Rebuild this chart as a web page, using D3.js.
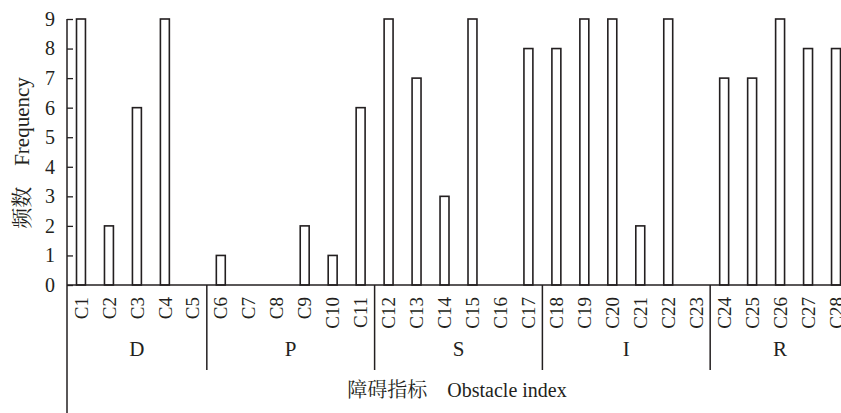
<!DOCTYPE html>
<html><head><meta charset="utf-8">
<script src="https://cdn.jsdelivr.net/npm/d3@7"></script>
<style>
html,body{margin:0;padding:0;background:#fff;}
svg{display:block;}
text{font-family:"Liberation Serif","Noto Serif CJK SC","Noto Sans CJK SC",serif;fill:#231f20;}
</style></head>
<body>
<svg id="chart" width="841" height="413"></svg>
<script>
const categories = ["C1","C2","C3","C4","C5","C6","C7","C8","C9","C10","C11","C12","C13","C14","C15","C16","C17","C18","C19","C20","C21","C22","C23","C24","C25","C26","C27","C28"];
const frequency = [9,2,6,9,0,1,0,0,2,1,6,9,7,3,9,0,8,8,9,9,2,9,0,7,7,9,8,8];
const groupNames = ["D","P","S","I","R"];
const groupSizes = [5,6,6,6,5];
const yTicks = [0,1,2,3,4,5,6,7,8,9];
const yTitle = "频数\u3000Frequency";
const xTitle = "障碍指标\u3000Obstacle index";

const ink = "#231f20";
const svg = d3.select("#chart");
const x0 = 67, x1 = 850, yBase = 285, yTop = 19;

const x = d3.scaleBand().domain(categories).range([x0, x1]).paddingInner(0.68).paddingOuter(0.34);
const y = d3.scaleLinear().domain([0, 9]).range([yBase, yTop]);
const step = x.step();

// bars
svg.append("g").selectAll("rect").data(categories).join("rect")
  .attr("x", d => x(d))
  .attr("y", (d,i) => y(frequency[i]))
  .attr("width", x.bandwidth())
  .attr("height", (d,i) => y(0) - y(frequency[i]))
  .attr("fill", "#fff").attr("stroke", ink).attr("stroke-width", 1.6);

// y axis
const yAxis = svg.append("g").attr("transform", `translate(${x0},0)`)
  .call(d3.axisLeft(y).tickValues(yTicks).tickSize(-6).tickPadding(12).tickFormat(d3.format("d")));
yAxis.select(".domain").remove();
yAxis.selectAll(".tick line").attr("stroke", ink).attr("stroke-width", 1.3);
yAxis.selectAll(".tick text").attr("font-size", 20).attr("fill", ink)
  .style("font-family", '"Liberation Serif",serif');
svg.append("line").attr("x1", x0).attr("x2", x0).attr("y1", y(9)).attr("y2", 413)
  .attr("stroke", ink).attr("stroke-width", 1.5);

// x axis baseline
svg.append("line").attr("x1", x0).attr("x2", 841).attr("y1", yBase).attr("y2", yBase)
  .attr("stroke", ink).attr("stroke-width", 1.6);

// category labels
svg.append("g").selectAll("text").data(categories).join("text")
  .attr("transform", d => `translate(${x(d) + x.bandwidth()/2},297) rotate(-90)`)
  .attr("text-anchor", "end").attr("dy", "0.35em")
  .attr("font-size", 19).text(d => d);

// group separators and labels
let start = 0;
const seps = [];
const groups = groupNames.map((g, i) => {
  const s = start; start += groupSizes[i];
  if (i < groupNames.length - 1) seps.push(start);
  return {name: g, s, e: start};
});
const bx = k => x(categories[0]) - x.bandwidth()/2 - step*x.paddingOuter() + k*step + (x.bandwidth()/2 + step*x.paddingOuter()) ;
const boundary = k => x0 + k*step;
svg.append("g").selectAll("line").data(seps).join("line")
  .attr("x1", boundary).attr("x2", boundary)
  .attr("y1", yBase).attr("y2", 370)
  .attr("stroke", ink).attr("stroke-width", 1.5);
svg.append("g").selectAll("text").data(groups).join("text")
  .attr("x", d => (boundary(d.s) + boundary(d.e))/2)
  .attr("y", 356).attr("text-anchor", "middle").attr("font-size", 21)
  .text(d => d.name);

// axis titles
svg.append("text").attr("transform", "translate(22,153) rotate(-90)")
  .attr("text-anchor", "middle").attr("dy", "0.35em").attr("font-size", 21).text(yTitle);
svg.append("text").attr("x", 457).attr("y", 397)
  .attr("text-anchor", "middle").attr("font-size", 20).text(xTitle);
</script>
</body></html>
